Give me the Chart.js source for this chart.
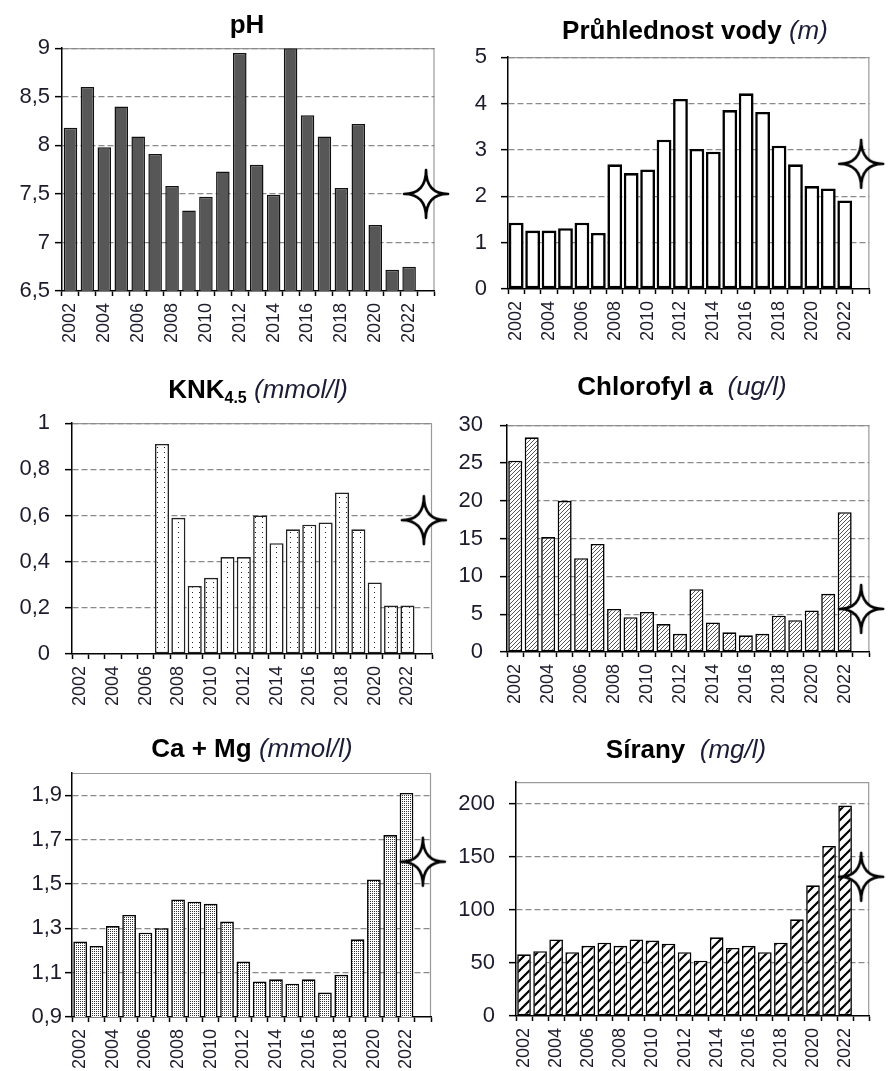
<!DOCTYPE html>
<html><head><meta charset="utf-8">
<script src="https://cdn.jsdelivr.net/npm/chart.js@4/dist/chart.umd.min.js"></script>
<style>
html,body{margin:0;padding:0;background:#fff;}
body{width:890px;height:1071px;position:relative;overflow:hidden;font-family:"Liberation Sans",Arial,sans-serif;}
canvas{position:absolute;}
.title{position:absolute;white-space:nowrap;font-size:26px;line-height:26px;font-weight:bold;color:#000;transform:translateX(-50%);z-index:5;}
.title i{font-weight:normal;color:#1c1c36;}
.title sub{font-size:16px;line-height:0;vertical-align:baseline;position:relative;top:5px;}
</style></head><body>
<div class="title" style="left:247px;top:11px;">pH</div>
<div class="title" style="left:695px;top:17px;">Průhlednost vody <i>(m)</i></div>
<div class="title" style="left:258px;top:376px;">KNK<sub>4.5</sub> <i>(mmol/l)</i></div>
<div class="title" style="left:682px;top:373px;">Chlorofyl a&nbsp; <i>(ug/l)</i></div>
<div class="title" style="left:252px;top:735px;">Ca + Mg <i>(mmol/l)</i></div>
<div class="title" style="left:686px;top:736px;">Sírany&nbsp; <i>(mg/l)</i></div>
<script>
// ---------- data ----------
const years = ['2002','2003','2004','2005','2006','2007','2008','2009','2010','2011','2012','2013','2014','2015','2016','2017','2018','2019','2020','2021','2022','2023'];
const xTickLabels = ['2002','','2004','','2006','','2008','','2010','','2012','','2014','','2016','','2018','','2020','','2022',''];

const phValues = [8.18, 8.60, 7.98, 8.40, 8.09, 7.91, 7.58, 7.33, 7.47, 7.73, 8.95, 7.80, 7.49, 9.00, 8.31, 8.09, 7.56, 8.22, 7.18, 6.72, 6.75];
const phStar = 7.5;
const phMajorTicks = [6.5, 7, 7.5, 8, 8.5, 9];
const phMinorTicks = [];

const pruhlednostValues = [1.43, 1.26, 1.26, 1.31, 1.43, 1.21, 2.69, 2.50, 2.58, 3.22, 4.10, 3.02, 2.96, 3.86, 4.22, 3.82, 3.09, 2.69, 2.22, 2.17, 1.91];
const pruhlednostStar = 2.70;
const pruhlednostMajorTicks = [0, 1, 2, 3, 4, 5];
const pruhlednostMinorTicks = [0.5, 1.5, 2.5, 3.5, 4.5];

const knkValues = [null, null, null, null, null, 0.91, 0.59, 0.295, 0.33, 0.42, 0.42, 0.60, 0.48, 0.54, 0.56, 0.57, 0.70, 0.54, 0.31, 0.21, 0.21];
const knkStar = 0.58;
const knkMajorTicks = [0, 0.2, 0.4, 0.6, 0.8, 1];
const knkMinorTicks = [];

const chlorofylValues = [25.3, 28.4, 15.2, 20.0, 12.4, 14.3, 5.7, 4.6, 5.3, 3.7, 2.4, 8.3, 3.9, 2.6, 2.2, 2.4, 4.8, 4.2, 5.5, 7.7, 18.5];
const chlorofylStar = 5.7;
const chlorofylMajorTicks = [0, 5, 10, 15, 20, 25, 30];
const chlorofylMinorTicks = [];

const caMgValues = [1.24, 1.22, 1.31, 1.36, 1.28, 1.30, 1.43, 1.42, 1.41, 1.33, 1.15, 1.06, 1.07, 1.05, 1.07, 1.01, 1.09, 1.25, 1.52, 1.72, 1.91];
const caMgStar = 1.60;
const caMgMajorTicks = [0.9, 1.1, 1.3, 1.5, 1.7, 1.9];
const caMgMinorTicks = [1.0, 1.2, 1.4, 1.6, 1.8, 2.0];

const siranyValues = [58, 61, 72, 60, 66, 69, 66, 72, 71, 68, 60, 52, 74, 64, 66, 60, 69, 91, 123, 160, 198];
const siranyStar = 131;
const siranyMajorTicks = [0, 50, 100, 150, 200];
const siranyMinorTicks = [25, 75, 125, 175];

// ---------- styling helpers ----------
const FONT = '"Liberation Sans", Arial, sans-serif';
const TXT = '#1c1c2c';

function makeStar(){
  const c = document.createElement('canvas'); c.width = 50; c.height = 54;
  const g = c.getContext('2d'); const cx = 25, cy = 27, rx = 22, ry = 24;
  g.beginPath(); g.moveTo(cx, cy - ry);
  g.quadraticCurveTo(cx, cy, cx + rx, cy);
  g.quadraticCurveTo(cx, cy, cx, cy + ry);
  g.quadraticCurveTo(cx, cy, cx - rx, cy);
  g.quadraticCurveTo(cx, cy, cx, cy - ry);
  g.closePath();
  g.fillStyle = '#fff'; g.fill();
  g.lineWidth = 2.6; g.strokeStyle = '#000'; g.lineJoin = 'round'; g.stroke();
  return c;
}
const starImg = makeStar();

function tile(w, h, draw){
  const c = document.createElement('canvas'); c.width = w; c.height = h;
  const g = c.getContext('2d'); g.fillStyle = '#fff'; g.fillRect(0, 0, w, h); draw(g, w, h); return c;
}
function hatch(ctx, s, lw, color){
  const t = tile(s, s, (g) => {
    g.strokeStyle = color; g.lineWidth = lw; g.lineCap = 'square';
    g.beginPath();
    g.moveTo(-1, s + 1); g.lineTo(s + 1, -1);
    g.moveTo(-1, 1); g.lineTo(1, -1);
    g.moveTo(s - 1, s + 1); g.lineTo(s + 1, s - 1);
    g.stroke();
  });
  return ctx.createPattern(t, 'repeat');
}
function dots(ctx, w, h, pts, color){
  const t = tile(w, h, (g) => { g.fillStyle = color; pts.forEach(p => g.fillRect(p[0], p[1], 1, 1)); });
  return ctx.createPattern(t, 'repeat');
}

const framePlugin = {
  id: 'frame',
  beforeDraw(chart){
    const a = chart.chartArea, g = chart.ctx;
    g.save(); g.strokeStyle = '#9a9a9a'; g.lineWidth = 1.2;
    g.beginPath(); g.moveTo(a.left, a.top + 0.5); g.lineTo(a.right - 0.5, a.top + 0.5); g.lineTo(a.right - 0.5, a.bottom); g.stroke();
    g.restore();
  }
};

function fmt(v){ return String(Math.round(v * 1000) / 1000).replace('.', ','); }

function makeChart(o){
  const cv = document.createElement('canvas');
  cv.width = o.cw; cv.height = o.ch;
  cv.style.left = o.cx + 'px'; cv.style.top = o.cy + 'px';
  cv.style.width = o.cw + 'px'; cv.style.height = o.ch + 'px';
  document.body.appendChild(cv);
  const ctx = cv.getContext('2d');
  const fill = typeof o.fill === 'function' ? o.fill(ctx) : o.fill;
  const key = v => (Math.round(v * 1000) / 1000).toFixed(3);
  const majorSet = new Set(o.majors.map(key));
  const allTicks = o.majors.concat(o.minors).sort((a, b) => a - b);
  const starData = years.map((y, i) => i === years.length - 1 ? o.star : null);
  new Chart(ctx, {
    type: 'bar',
    data: { labels: years, datasets: [
      { type: 'line', data: starData, showLine: false, pointStyle: starImg, pointRadius: 10, clip: false, order: 0 },
      { data: o.values, backgroundColor: fill, borderColor: o.border, borderWidth: o.bw, borderSkipped: false,
        barPercentage: o.barPct, categoryPercentage: 1, order: 1 }
    ]},
    options: {
      responsive: false, animation: false, events: [],
      layout: { padding: { left: 0, top: o.T - o.cy, right: o.cx + o.cw - o.R, bottom: 0 } },
      plugins: { legend: { display: false }, tooltip: { enabled: false }, title: { display: false } },
      scales: {
        x: {
          type: 'category', offset: true,
          grid: { offset: true, drawOnChartArea: false, drawTicks: true, tickLength: 5, tickColor: '#000', tickWidth: 1.5 },
          border: { display: true, color: '#000', width: 1.5 },
          ticks: { autoSkip: false, maxRotation: 90, minRotation: 90, padding: 7,
                   font: { family: FONT, size: 18 }, color: TXT, callback: (v, i) => xTickLabels[i] },
          afterFit: (s) => { s.height = o.cy + o.ch - o.B; }
        },
        y: {
          min: o.min, max: o.max,
          afterBuildTicks: (s) => { s.ticks = allTicks.map(v => ({ value: v })); },
          grid: {
            drawOnChartArea: true,
            color: (c) => (c.tick && majorSet.has(key(c.tick.value)) && c.tick.value > o.min + 1e-9) ? '#8a8a8a' : 'rgba(0,0,0,0)',
            lineWidth: 1.3, tickColor: '#000', tickLength: 7, tickWidth: 1.5
          },
          border: { display: true, color: '#000', width: 1.5, dash: [6, 3] },
          ticks: { padding: o.tickPad, font: { family: FONT, size: 22 }, color: TXT,
                   callback: (v) => majorSet.has(key(v)) ? fmt(v) : '' },
          afterFit: (s) => { s.width = o.L - o.cx; }
        }
      }
    },
    plugins: [framePlugin]
  });
}

// ---------- panels ----------
makeChart({ cx: 0, cy: 30, cw: 455, ch: 320, L: 62, T: 48, R: 439, B: 291,
  values: phValues, star: phStar, min: 6.5, max: 9, majors: phMajorTicks, minors: phMinorTicks,
  fill: '#575757', border: '#111', bw: 1.5, barPct: 0.8, tickPad: 5 });

makeChart({ cx: 455, cy: 30, cw: 435, ch: 320, L: 508, T: 53, R: 887, B: 289,
  values: pruhlednostValues, star: pruhlednostStar, min: 0, max: 5, majors: pruhlednostMajorTicks, minors: pruhlednostMinorTicks,
  fill: '#ffffff', border: '#000', bw: 2.6, barPct: 0.9, tickPad: 14 });

makeChart({ cx: 0, cy: 395, cw: 455, ch: 320, L: 72, T: 412, R: 432, B: 654,
  values: knkValues, star: knkStar, min: 0, max: 1, majors: knkMajorTicks, minors: knkMinorTicks,
  fill: (ctx) => dots(ctx, 7, 5, [[3, 2]], '#222'), border: '#222', bw: 1.6, barPct: 0.86, tickPad: 15 });

makeChart({ cx: 455, cy: 395, cw: 435, ch: 320, L: 507, T: 412, R: 889, B: 652,
  values: chlorofylValues, star: chlorofylStar, min: 0, max: 30, majors: chlorofylMajorTicks, minors: chlorofylMinorTicks,
  fill: (ctx) => hatch(ctx, 4, 1, '#555'), border: '#000', bw: 1.6, barPct: 0.85, tickPad: 17 });

makeChart({ cx: 0, cy: 755, cw: 455, ch: 316, L: 72, T: 773, R: 431, B: 1017,
  values: caMgValues, star: caMgStar, min: 0.9, max: 2.0, majors: caMgMajorTicks, minors: caMgMinorTicks,
  fill: (ctx) => dots(ctx, 2, 2, [[0, 0]], '#333'), border: '#000', bw: 1.6, barPct: 0.84, tickPad: 3 });

makeChart({ cx: 455, cy: 755, cw: 435, ch: 316, L: 516, T: 773, R: 889, B: 1016,
  values: siranyValues, star: siranyStar, min: 0, max: 220, majors: siranyMajorTicks, minors: siranyMinorTicks,
  fill: (ctx) => hatch(ctx, 10, 2.2, '#000'), border: '#000', bw: 1.6, barPct: 0.85, tickPad: 14 });
</script>
</body></html>
